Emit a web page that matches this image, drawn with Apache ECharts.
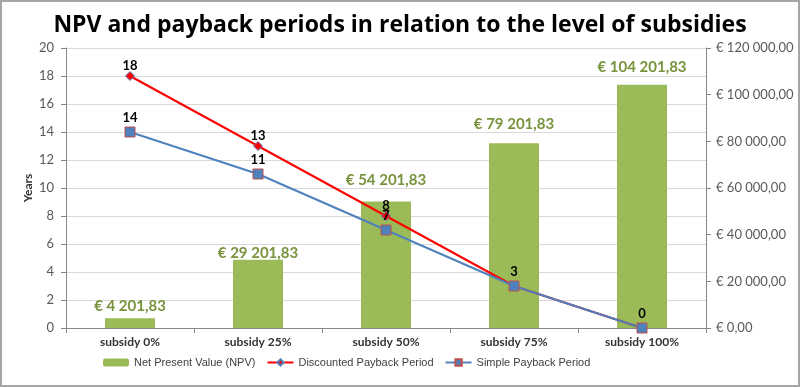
<!DOCTYPE html>
<html><head><meta charset="utf-8">
<script src="https://cdn.jsdelivr.net/npm/echarts@6/dist/echarts.min.js"></script>
<style>
html,body{margin:0;padding:0;background:#fff;}
#c{width:800px;height:387px;box-sizing:border-box;border:2px solid #a6a6a6;}
</style></head><body>
<div id="c"></div>
<script>
const categories = ['subsidy 0%', 'subsidy 25%', 'subsidy 50%', 'subsidy 75%', 'subsidy 100%'];
const npv = [4201.83, 29201.83, 54201.83, 79201.83, 104201.83];
const discounted = [18, 13, 8, 3, 0];
const simple = [14, 11, 7, 3, 0];
const yearTicks = [0, 20, 2];
const euroTicks = [0, 120000, 20000];

// label offsets (styling only, as in the original Excel layout)
const npvLabelDistance = [5, -1, 14, 12, 10];

function euro(v) {
  const parts = v.toFixed(2).split('.');
  const intPart = parts[0].replace(/\B(?=(\d{3})+(?!\d))/g, ' ');
  return '€ ' + intPart + ',' + parts[1];
}

const FONT = 'Lato';
const chart = echarts.init(document.getElementById('c'), null, {renderer: 'canvas'});
chart.setOption({
  animation: false,
  title: {
    text: 'NPV and payback periods in relation to the level of subsidies',
    left: 'center', top: 7,
    textStyle: {fontFamily: 'Open Sans', fontSize: 23, fontWeight: 'bold', color: '#000'}
  },
  grid: {left: 64, right: 92, top: 46, bottom: 57},
  legend: {
    bottom: 12, left: 96, itemGap: 11, itemWidth: 26, itemHeight: 8,
    textStyle: {fontFamily: 'Liberation Sans', fontSize: 11, color: '#404040'},
    data: ['Net Present Value (NPV)', 'Discounted Payback Period', 'Simple Payback Period']
  },
  xAxis: {
    type: 'category', data: categories, boundaryGap: true,
    axisLine: {lineStyle: {color: '#868686'}},
    axisTick: {show: true, alignWithLabel: false, length: 5, lineStyle: {color: '#868686'}},
    axisLabel: {fontFamily: FONT, fontSize: 12, fontWeight: 'bold', color: '#333', margin: 8}
  },
  yAxis: [{
    type: 'value', min: yearTicks[0], max: yearTicks[1], interval: yearTicks[2],
    name: 'Years', nameLocation: 'middle', nameGap: 32, nameRotate: 90, nameMoveOverlap: false,
    nameTextStyle: {fontFamily: FONT, fontSize: 12, fontWeight: 'bold', color: '#333'},
    axisLine: {show: true, lineStyle: {color: '#868686'}},
    axisTick: {show: true, length: 5, lineStyle: {color: '#868686'}},
    axisLabel: {fontFamily: FONT, fontSize: 13, color: '#595959', margin: 12},
    splitLine: {lineStyle: {color: '#d9d9d9'}}
  }, {
    type: 'value', min: euroTicks[0], max: euroTicks[1], interval: euroTicks[2],
    position: 'right',
    axisLine: {show: true, lineStyle: {color: '#868686'}},
    axisTick: {show: true, length: 5, lineStyle: {color: '#868686'}},
    axisLabel: {fontFamily: FONT, fontSize: 13, color: '#595959', margin: 10, formatter: v => euro(v)},
    splitLine: {show: false}
  }],
  series: [{
    name: 'Net Present Value (NPV)', type: 'bar', yAxisIndex: 1,
    data: npv.map((v, i) => ({value: v, label: {distance: npvLabelDistance[i]}})),
    barWidth: 50,
    itemStyle: {color: '#9BBB59'},
    label: {show: true, position: 'top', formatter: p => euro(p.value),
      fontFamily: FONT, fontSize: 15, fontWeight: 'bold', color: '#77933C'}
  }, {
    name: 'Discounted Payback Period', type: 'line', yAxisIndex: 0,
    data: discounted.map((v, i) => ({value: v, label: {show: v !== simple[i]}})),
    lineStyle: {color: '#FF0000', width: 2},
    itemStyle: {color: '#FF0000', borderColor: '#4F81BD', borderWidth: 1},
    symbol: 'diamond', symbolSize: 9, showAllSymbol: true,
    label: {show: true, position: 'top', distance: -1, fontFamily: FONT, fontSize: 13, fontWeight: 'bold', color: '#000'}
  }, {
    name: 'Simple Payback Period', type: 'line', yAxisIndex: 0, data: simple,
    lineStyle: {color: '#4F81BD', width: 2},
    itemStyle: {color: '#4F81BD', borderColor: '#C0504D', borderWidth: 1},
    symbol: 'rect', symbolSize: 10, showAllSymbol: true,
    label: {show: true, position: 'top', distance: 2, fontFamily: FONT, fontSize: 13, fontWeight: 'bold', color: '#000'}
  }]
});
</script>
</body></html>
